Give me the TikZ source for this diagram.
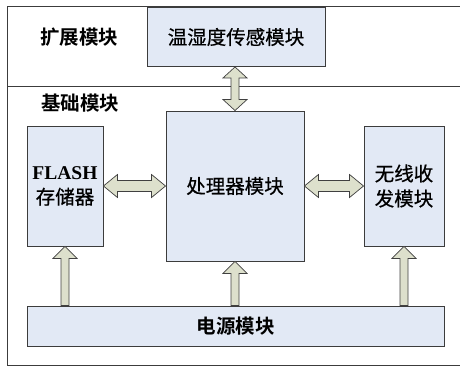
\documentclass[tikz,border=0pt]{standalone}
\usepackage{fontspec}
\setmainfont{Liberation Serif}
\newfontfamily\cjk[FakeBold=0.6]{Noto Sans CJK SC}
\newfontfamily\cjkb{Noto Sans CJK SC Bold}
\usetikzlibrary{calc}
\definecolor{boxfill}{RGB}{226,233,245}
\definecolor{arrfill}{RGB}{221,224,204}
\definecolor{lineclr}{RGB}{60,60,60}
\tikzset{
  blk/.style={draw=lineclr, line width=0.9pt, fill=boxfill, inner sep=0pt, align=center,
     font=\cjk\fontsize{19.5}{25}\selectfont},
  fatarrow/.style={draw=black!75, line width=0.7pt, fill=arrfill, line join=miter},
  frame/.style={draw=lineclr, line width=0.9pt},
  lbl/.style={inner sep=0pt, font=\cjkb\fontsize{19.5}{22}\selectfont}
}
\begin{document}
\begin{tikzpicture}[x=1pt,y=-1pt]
\useasboundingbox (0,0) rectangle (460,367);
% frame
\coordinate (tl) at (7,6);
\coordinate (tr) at (460,6);
\coordinate (ml) at (7,86);
\coordinate (mr) at (460,86);
\coordinate (bl) at (7,365);
\coordinate (br) at (460,365);
\draw[frame] (tr) -- (tl) -- (bl) -- (br);
\draw[frame] (ml) -- (mr);
% labels
\node[lbl] (ext) at (79,37) {扩展模块};
\node[lbl] (base) at (80,103) {基础模块};
% boxes
\node[blk, minimum width=178pt, minimum height=59pt] (tmp) at (236,37) {温湿度传感模块};
\node[blk, minimum width=138pt, minimum height=150pt] (pr) at (235,186) {处理器模块};
\node[blk, minimum width=76pt, minimum height=120pt] (fl) at (65,186) {{\rmfamily\bfseries FLASH}\\存储器};
\node[blk, minimum width=80pt, minimum height=120pt] (wl) at (404,186) {无线收\\发模块};
\node[blk, minimum width=417pt, minimum height=40pt, font=\cjkb\fontsize{19.5}{22}\selectfont] (pw) at (235.5,326) {电源模块};
% horizontal double arrows
\draw[fatarrow] let \p1=(fl.east), \p2=(pr.west) in
  (\x1,\y1) -- (\x1+14pt,\y1+11.5pt) -- (\x1+14pt,\y1+5.5pt) -- (\x2-14pt,\y1+5.5pt) -- (\x2-14pt,\y1+11.5pt)
  -- (\x2,\y1) -- (\x2-14pt,\y1-11.5pt) -- (\x2-14pt,\y1-5.5pt) -- (\x1+14pt,\y1-5.5pt) -- (\x1+14pt,\y1-11.5pt) -- cycle;
\draw[fatarrow] let \p1=(pr.east), \p2=(wl.west) in
  (\x1,\y1) -- (\x1+14pt,\y1+11.5pt) -- (\x1+14pt,\y1+5.5pt) -- (\x2-14pt,\y1+5.5pt) -- (\x2-14pt,\y1+11.5pt)
  -- (\x2,\y1) -- (\x2-14pt,\y1-11.5pt) -- (\x2-14pt,\y1-5.5pt) -- (\x1+14pt,\y1-5.5pt) -- (\x1+14pt,\y1-11.5pt) -- cycle;
% vertical double arrow
\draw[fatarrow] let \p1=(tmp.south), \p2=(pr.north) in
  (\x2,\y1) -- (\x2+12pt,\y1-11pt) -- (\x2+4pt,\y1-11pt) -- (\x2+4pt,\y2+11pt) -- (\x2+12pt,\y2+11pt)
  -- (\x2,\y2) -- (\x2-12pt,\y2+11pt) -- (\x2-4pt,\y2+11pt) -- (\x2-4pt,\y1-11pt) -- (\x2-12pt,\y1-11pt) -- cycle;
% up arrows from power
\foreach \t in {fl,pr,wl}{
\draw[fatarrow] let \p1=(\t.south), \p2=(pw.north) in
  (\x1,\y1) -- (\x1+12pt,\y1-12pt) -- (\x1+4pt,\y1-12pt) -- (\x1+4pt,\y2) -- (\x1-4pt,\y2)
  -- (\x1-4pt,\y1-12pt) -- (\x1-12pt,\y1-12pt) -- cycle;
}
\end{tikzpicture}
\end{document}
